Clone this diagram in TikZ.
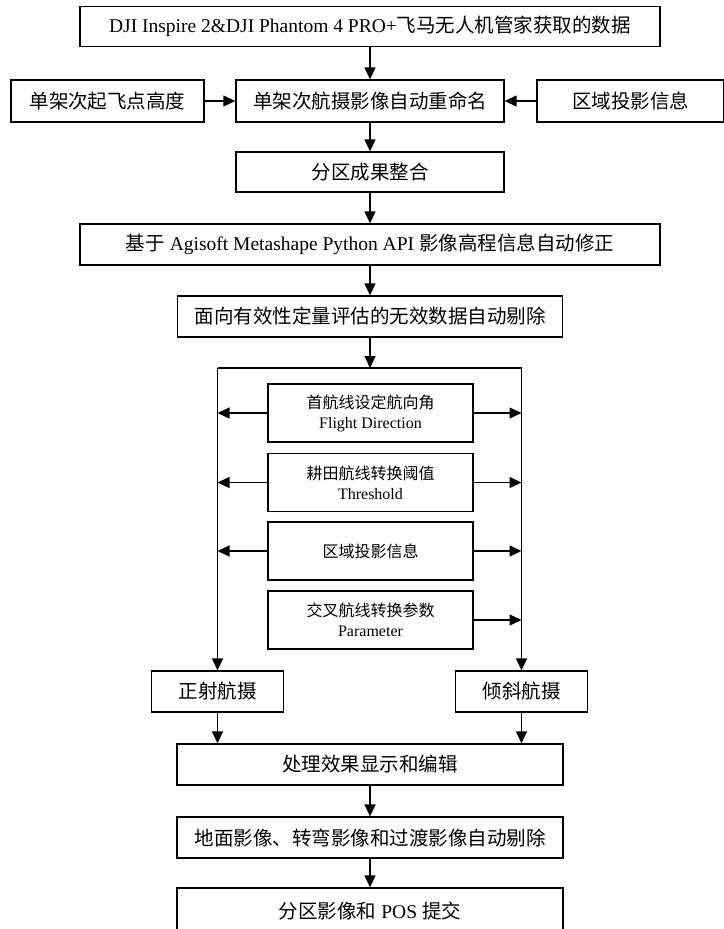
\documentclass[tikz,border=0pt]{standalone}
\usepackage{fontspec}
\setmainfont{Liberation Serif}
\newfontfamily\zh{Noto Sans CJK SC}
\usetikzlibrary{arrows.meta}
\begin{document}
\begin{tikzpicture}[x=1pt,y=-1pt,
  box/.style={draw,line width=1.3pt,inner sep=0pt,align=center,font=\fontsize{19.5}{22}\selectfont},
  ibox/.style={draw,line width=1.3pt,inner sep=0pt,align=center,minimum width=205pt,minimum height=58pt,font=\fontsize{16}{20}\selectfont},
  arr/.style={line width=1.3pt,-{Triangle[length=12pt,width=11pt]}},
  ln/.style={line width=1.3pt}]
\useasboundingbox (0,0) rectangle (723,929);
% top
\node[box,minimum width=580pt,minimum height=40pt] (b1) at (370,26.5)
  {DJI Inspire 2\&DJI Phantom 4 PRO+{\zh 飞马无人机管家获取的数据}};
\node[box,minimum width=193pt,minimum height=42pt] (l2) at (107.5,101) {\zh 单架次起飞点高度};
\node[box,minimum width=268pt,minimum height=42pt] (m2) at (370,101) {\zh 单架次航摄影像自动重命名};
\node[box,minimum width=187pt,minimum height=42pt] (r2) at (630.5,101) {\zh 区域投影信息};
\node[box,minimum width=268pt,minimum height=40pt] (b3) at (370,172) {\zh 分区成果整合};
\node[box,minimum width=580pt,minimum height=41pt] (b4) at (370,244.5)
  {{\zh 基于} Agisoft Metashape Python API {\zh 影像高程信息自动修正}};
\node[box,minimum width=385pt,minimum height=41pt] (b5) at (370,316.5) {\zh 面向有效性定量评估的无效数据自动剔除};
% frame
\coordinate (fl) at (217.5,368);
\coordinate (fr) at (521.5,368);
\node[ibox] (ia) at (370.5,413) {{\zh 首航线设定航向角}\\Flight Direction};
\node[ibox] (ib) at (370.5,482.5) {{\zh 耕田航线转换阈值}\\Threshold};
\node[ibox] (ic) at (370.5,551) {\zh 区域投影信息};
\node[ibox] (id) at (370.5,620) {{\zh 交叉航线转换参数}\\Parameter};
\node[box,minimum width=132pt,minimum height=41pt] (o1) at (217.5,691.5) {\zh 正射航摄};
\node[box,minimum width=132pt,minimum height=41pt] (o2) at (521.5,691.5) {\zh 倾斜航摄};
\node[box,minimum width=386pt,minimum height=41pt] (p1) at (370,764.5) {\zh 处理效果显示和编辑};
\node[box,minimum width=386pt,minimum height=41pt] (p2) at (370,837.5) {\zh 地面影像、转弯影像和过渡影像自动剔除};
\node[box,minimum width=386pt,minimum height=46pt] (p3) at (370,911) {{\zh 分区影像和} POS {\zh 提交}};
% connectors
\draw[arr] (b1) -- (m2);
\draw[arr] (l2) -- (m2);
\draw[arr] (r2) -- (m2);
\draw[arr] (m2) -- (b3);
\draw[arr] (b3) -- (b4);
\draw[arr] (b4) -- (b5);
\draw[arr] (b5.south) -- (b5.south |- fl);
\draw[ln] (fl) -- (fr);
\draw[arr] (fl) -- (o1.north);
\draw[arr] (fr) -- (o2.north);
\foreach \n in {ia,ib,ic}{
  \draw[arr] (\n.west) -- (\n.west -| fl);
}
\foreach \n in {ia,ib,ic,id}{
  \draw[arr] (\n.east) -- (\n.east -| fr);
}
\draw[arr] (o1.south) -- (o1.south |- p1.north);
\draw[arr] (o2.south) -- (o2.south |- p1.north);
\draw[arr] (p1) -- (p2);
\draw[arr] (p2) -- (p3);
\end{tikzpicture}
\end{document}
